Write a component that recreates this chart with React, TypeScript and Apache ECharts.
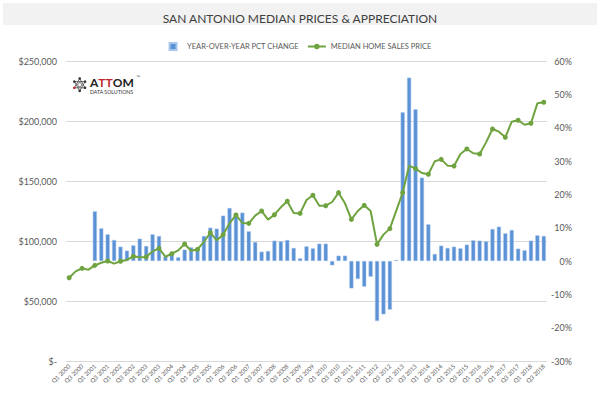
import React, { useEffect, useRef } from "react";
import * as echarts from "echarts";

const years = [2000, 2001, 2002, 2003, 2004, 2005, 2006, 2007, 2008, 2009, 2010, 2011, 2012, 2013, 2014, 2015, 2016, 2017, 2018];
const quarters = ["Q1", "Q2", "Q3", "Q4"];
const categories: string[] = [];
years.forEach((y) => quarters.forEach((q) => categories.push(`${q} ${y}`)));
categories.splice(75); // Q1 2000 .. Q3 2018

const medianPrice = [
  69400, 74700, 77200, 76100, 79700, 81900, 83300, 81100, 83100, 84200,
  87200, 86400, 86700, 91400, 93900, 86900, 89400, 92200, 97500, 91900,
  93000, 99200, 106900, 100600, 105300, 114700, 121700, 115000, 114700, 121100,
  125000, 117800, 121900, 128100, 133100, 123300, 123000, 134200, 138100, 129400,
  129400, 132500, 140300, 131400, 118000, 125000, 129700, 125000, 97200, 105300,
  110300, 125300, 140300, 162800, 160300, 156700, 155600, 166400, 168000, 162800,
  162500, 172500, 176700, 173100, 172500, 182200, 193300, 191100, 186400, 199400,
  200600, 196900, 198100, 214700, 215600,
];

const yoyPct = [
  null, null, null, null, 14.9, 9.8, 8.0, 6.3, 4.3, 3.1,
  4.7, 6.7, 4.5, 8.0, 7.5, 1.3, 2.5, 1.1, 3.4, 4.1,
  3.8, 7.5, 10.0, 9.7, 13.6, 15.9, 14.3, 14.5, 8.9, 5.7,
  2.8, 3.0, 6.1, 5.9, 6.3, 3.9, 0.8, 4.4, 3.8, 5.2,
  5.2, -1.3, 1.6, 1.6, -8.2, -5.4, -7.7, -4.7, -18.0, -16.0,
  -14.6, 0.3, 44.6, 55.0, 45.5, 25.0, 11.0, 2.1, 4.6, 3.9,
  4.3, 3.8, 4.9, 6.2, 6.1, 5.9, 9.6, 10.3, 8.3, 9.3,
  3.7, 3.2, 6.1, 7.7, 7.5,
];

const BAR_NAME = "YEAR-OVER-YEAR PCT CHANGE";
const LINE_NAME = "MEDIAN HOME SALES PRICE";
const FONT = "Lato, 'Open Sans', sans-serif";

export default function App() {
  const ref = useRef<HTMLDivElement>(null);
  useEffect(() => {
    if (!ref.current) return;
    const chart = echarts.init(ref.current, null, { renderer: "svg" });
    const cx = 79.7;
    const cy = 84.7;
    const r = 6.2;
    const pts = (start: number) =>
      [0, 1, 2].map((k) => {
        const a = start + (k * 2 * Math.PI) / 3;
        return [cx + r * Math.cos(a), cy + r * Math.sin(a)];
      });
    const up = pts(-Math.PI / 2);
    const down = pts(Math.PI / 2);
    const dots = [...up, ...down].map((p, i) => ({
      type: "circle",
      shape: { cx: p[0], cy: p[1], r: 1.3 },
      style: { fill: i === 2 ? "#c0262d" : "#333" },
    }));
    chart.setOption({
      animation: false,
      textStyle: { fontFamily: FONT },
      title: {
        text: "SAN ANTONIO MEDIAN PRICES & APPRECIATION",
        left: "center",
        top: 7,
        textStyle: { fontFamily: FONT, fontSize: 12, fontWeight: "normal", color: "#404040" },
      },
      graphic: [
        { type: "rect", z: -10, shape: { x: 3, y: 3, width: 594, height: 22 }, style: { fill: "#f2f2f2" } },
        {
          type: "group",
          children: [
            { type: "polygon", shape: { points: up }, style: { fill: "none", stroke: "#444", lineWidth: 0.8 } },
            { type: "polygon", shape: { points: down }, style: { fill: "none", stroke: "#444", lineWidth: 0.8 } },
            { type: "circle", shape: { cx, cy, r: 2 }, style: { fill: "none", stroke: "#444", lineWidth: 0.8 } },
            ...dots,
            {
              type: "text",
              x: 90,
              y: 76.5,
              style: {
                text: "{k|A}{r|TT}{k|OM}",
                lineHeight: 11,
                rich: {
                  k: { fontFamily: FONT, fontSize: 12, fontWeight: "bold", fill: "#222", lineHeight: 11 },
                  r: { fontFamily: FONT, fontSize: 12, fontWeight: "bold", fill: "#c0262d", lineHeight: 11 },
                },
              },
            },
            { type: "text", x: 136, y: 74, style: { text: "™", fontSize: 4, fill: "#333" } },
            {
              type: "text",
              x: 90,
              y: 88.5,
              style: { text: "DATA SOLUTIONS", fontFamily: FONT, fontSize: 5.2, lineHeight: 6, fill: "#333" },
            },
          ],
        },
      ],
      legend: {
        top: 37,
        left: "center",
        itemWidth: 18,
        itemHeight: 7,
        itemGap: 8,
        textStyle: { fontFamily: FONT, fontSize: 7.5, color: "#595959" },
        data: [{ name: BAR_NAME, icon: "path://M0,0 H6 V6 H0 Z" }, { name: LINE_NAME }],
      },
      grid: { left: 66, right: 53, top: 61, bottom: 36 },
      xAxis: {
        type: "category",
        data: categories,
        boundaryGap: true,
        axisTick: { show: false },
        axisLine: { lineStyle: { color: "#d9d9d9" } },
        axisLabel: { interval: 1, rotate: 45, fontSize: 6, color: "#595959", margin: 4, fontFamily: FONT },
      },
      yAxis: [
        {
          type: "value",
          min: 0,
          max: 250000,
          interval: 50000,
          axisLine: { show: false },
          axisTick: { show: false },
          splitLine: { lineStyle: { color: "#d9d9d9", width: 1 } },
          axisLabel: {
            fontSize: 9,
            color: "#595959",
            margin: 9,
            fontFamily: FONT,
            formatter: (v: number) => (v === 0 ? "$-" : "$" + v.toLocaleString("en-US")),
          },
        },
        {
          type: "value",
          position: "right",
          min: -30,
          max: 60,
          interval: 10,
          axisLine: { show: false },
          axisTick: { show: false },
          splitLine: { show: false },
          axisLabel: {
            fontSize: 9,
            color: "#595959",
            margin: 25,
            align: "right",
            fontFamily: FONT,
            formatter: "{value}%",
          },
        },
      ],
      series: [
        {
          name: BAR_NAME,
          type: "bar",
          yAxisIndex: 1,
          data: yoyPct,
          barCategoryGap: "36%",
          itemStyle: { color: "#5B92D5", borderColor: "#a8c6ec", borderWidth: 0.5 },
        },
        {
          name: LINE_NAME,
          type: "line",
          yAxisIndex: 0,
          data: medianPrice,
          symbol: "circle",
          symbolSize: 5,
          lineStyle: { color: "#6FA33F", width: 2 },
          itemStyle: { color: "#6FA33F" },
          z: 3,
        },
      ],
    });
    return () => chart.dispose();
  }, []);
  return <div ref={ref} style={{ position: "fixed", left: 0, top: 0, width: 600, height: 397, background: "#fff" }} />;
}
